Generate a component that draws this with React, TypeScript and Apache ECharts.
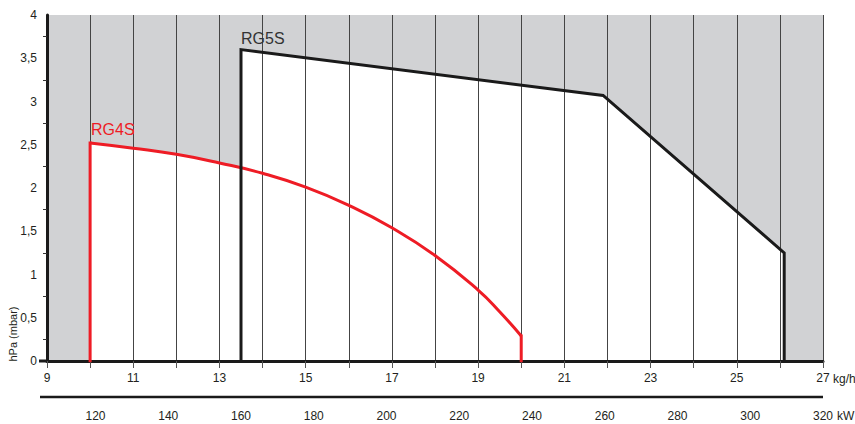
import React, { useEffect, useRef } from "react";
import * as echarts from "echarts";

const rg4sName = "RG4S";
// upper curve of RG4S (kg/h, hPa)
const rg4sCurve: [number, number][] = [
  [10, 2.52],
  [11, 2.46],
  [12, 2.39],
  [13, 2.29],
  [14, 2.17],
  [15, 2.01],
  [16, 1.8],
  [17, 1.54],
  [18, 1.22],
  [19, 0.82],
  [19.5, 0.57],
  [20, 0.29],
];

const rg5sName = "RG5S";
// upper outline of RG5S (kg/h, hPa)
const rg5sCurve: [number, number][] = [
  [13.5, 3.6],
  [21.9, 3.07],
  [26.1, 1.25],
];

const kgMin = 9;
const kgMax = 27;
const kwMax = 320;
const kwTicks = [120, 140, 160, 180, 200, 220, 240, 260, 280, 300, 320];
const yMin = 0;
const yMax = 4;

const FONT = "'Liberation Sans', Arial, Helvetica, sans-serif";
const RED = "#ee1c25";
const DARK = "#1a1a1a";

function closed(curve: [number, number][]): [number, number][] {
  const first = curve[0];
  const last = curve[curve.length - 1];
  return [[first[0], 0], ...curve, [last[0], 0]];
}

export default function App() {
  const ref = useRef<HTMLDivElement>(null);
  useEffect(() => {
    if (!ref.current) return;
    const chart = echarts.init(ref.current, undefined, { renderer: "svg" });
    const rg4sFirst = rg4sCurve[0];
    const rg4sLast = rg4sCurve[rg4sCurve.length - 1];
    const option: any = {
      animation: false,
      backgroundColor: "#ffffff",
      grid: {
        left: 47,
        right: 32,
        top: 15,
        bottom: 63,
        show: true,
        backgroundColor: "#d1d2d4",
        borderWidth: 0,
      },
      xAxis: [
        {
          type: "value",
          min: kgMin,
          max: kgMax,
          interval: 1,
          position: "bottom",
          z: 2,
          axisLine: { show: true, onZero: false, lineStyle: { color: DARK, width: 3 } },
          axisTick: { show: true, length: 7, lineStyle: { color: "#555", width: 1 } },
          axisLabel: {
            margin: 11,
            color: "#231f20",
            fontSize: 12,
            fontFamily: FONT,
            formatter: (v: number) => (Math.round(v) % 2 === 1 ? String(v) : ""),
          },
          splitLine: { show: true, lineStyle: { color: "#444", width: 1 } },
        },
        {
          type: "value",
          min: (kwMax * kgMin) / kgMax,
          max: kwMax,
          position: "bottom",
          offset: 36,
          axisLine: { show: false },
          axisTick: { show: false },
          splitLine: { show: false },
          axisLabel: {
            customValues: kwTicks,
            margin: 13,
            color: "#231f20",
            fontSize: 12,
            fontFamily: FONT,
          },
        },
      ],
      yAxis: {
        type: "value",
        min: yMin,
        max: yMax,
        interval: 0.5,
        z: 2,
        axisLine: { show: true, lineStyle: { color: DARK, width: 3 } },
        axisTick: { show: false },
        minorTick: { show: true, splitNumber: 2, length: 4, lineStyle: { color: "#333", width: 1 } },
        splitLine: { show: false },
        minorSplitLine: { show: false },
        axisLabel: {
          margin: 10,
          color: "#231f20",
          fontSize: 12,
          fontFamily: FONT,
          formatter: (v: number) => String(v).replace(".", ","),
        },
      },
      series: [
        {
          name: rg4sName + " area",
          type: "line",
          data: closed(rg4sCurve),
          showSymbol: false,
          symbol: "none",
          z: 1,
          lineStyle: { width: 0 },
          areaStyle: { color: "#ffffff", opacity: 1 },
          silent: true,
        },
        {
          name: rg5sName + " area",
          type: "line",
          data: closed(rg5sCurve),
          showSymbol: false,
          symbol: "none",
          z: 1,
          lineStyle: { width: 0 },
          areaStyle: { color: "#ffffff", opacity: 1 },
          silent: true,
        },
        {
          name: rg4sName,
          type: "line",
          data: rg4sCurve,
          smooth: 0.5,
          showSymbol: false,
          symbol: "none",
          z: 3,
          lineStyle: { color: RED, width: 3, cap: "butt" },
        },
        {
          name: rg4sName + " left",
          type: "line",
          data: [[rg4sFirst[0], 0], rg4sFirst],
          showSymbol: false,
          symbol: "none",
          z: 3,
          lineStyle: { color: RED, width: 3, cap: "square" },
        },
        {
          name: rg4sName + " right",
          type: "line",
          data: [rg4sLast, [rg4sLast[0], 0]],
          showSymbol: false,
          symbol: "none",
          z: 3,
          lineStyle: { color: RED, width: 3, cap: "square" },
        },
        {
          name: rg5sName,
          type: "line",
          data: closed(rg5sCurve),
          showSymbol: false,
          symbol: "none",
          z: 4,
          lineStyle: { color: DARK, width: 3, join: "miter" },
        },
      ],
      graphic: [
        {
          type: "line",
          shape: { x1: 40, y1: 397, x2: 823, y2: 397 },
          style: { stroke: DARK, lineWidth: 2.5 },
          z: 10,
        },
        {
          type: "line",
          shape: { x1: 39, y1: 361, x2: 47, y2: 361 },
          style: { stroke: DARK, lineWidth: 3 },
          z: 10,
        },
        {
          type: "text",
          x: 833,
          y: 379,
          style: { text: "kg/h", fill: "#231f20", fontSize: 12, fontFamily: FONT, verticalAlign: "middle" },
          z: 10,
        },
        {
          type: "text",
          x: 837,
          y: 416,
          style: { text: "kW", fill: "#231f20", fontSize: 12, fontFamily: FONT, verticalAlign: "middle" },
          z: 10,
        },
        {
          type: "text",
          x: 13,
          y: 334,
          rotation: Math.PI / 2,
          style: {
            text: "hPa (mbar)",
            fill: "#231f20",
            fontSize: 11,
            fontFamily: FONT,
            align: "center",
            verticalAlign: "middle",
          },
          z: 10,
        },
        {
          type: "text",
          x: 91,
          y: 129,
          style: { text: rg4sName, fill: RED, fontSize: 16, fontFamily: FONT, verticalAlign: "middle" },
          z: 10,
        },
        {
          type: "text",
          x: 241,
          y: 38,
          style: { text: rg5sName, fill: "#333", fontSize: 16, fontFamily: FONT, verticalAlign: "middle" },
          z: 10,
        },
      ],
    };
    chart.setOption(option);
    return () => chart.dispose();
  }, []);
  return (
    <div
      ref={ref}
      style={{ position: "fixed", left: 0, top: 0, width: 855, height: 424 }}
    />
  );
}
